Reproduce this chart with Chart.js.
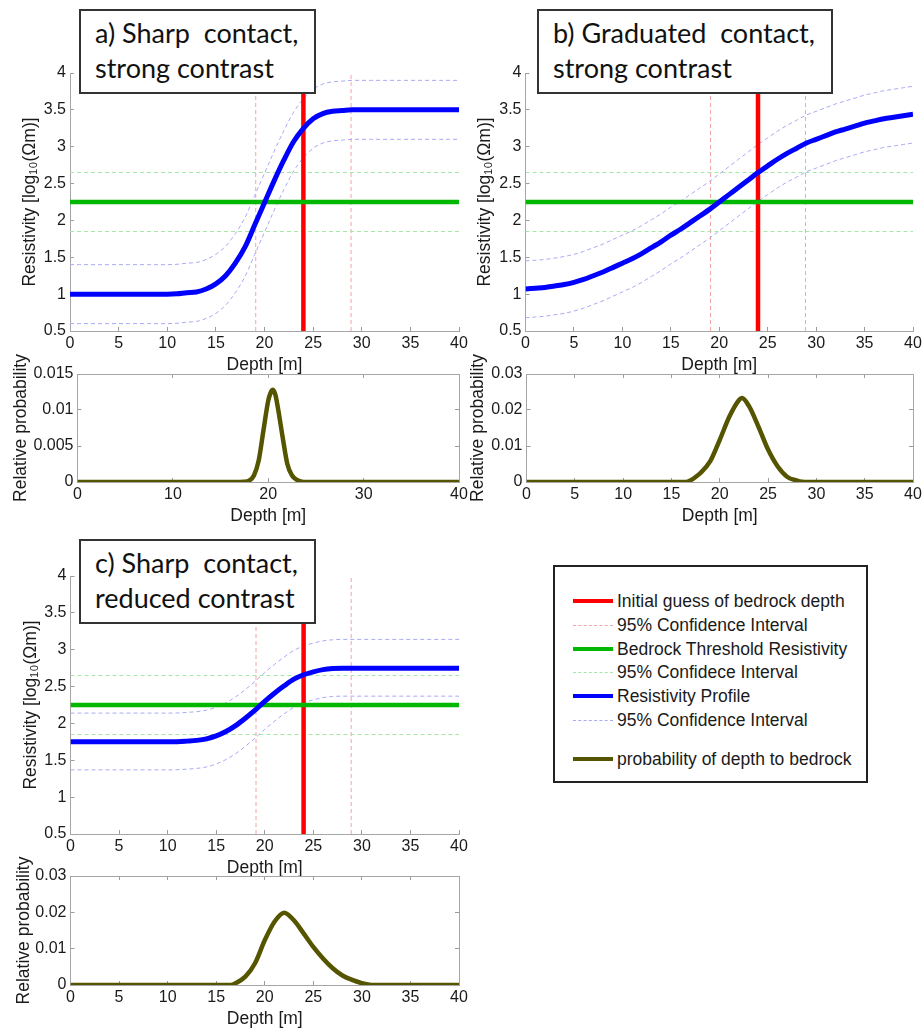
<!DOCTYPE html>
<html>
<head>
<meta charset="utf-8">
<script src="https://cdn.jsdelivr.net/npm/chart.js@4.4.1/dist/chart.umd.min.js"></script>
<style>
html,body{margin:0;padding:0;background:#fff;overflow:hidden;}
#wrap{position:relative;width:922px;height:1029px;overflow:hidden;background:#fff;}
#wrap canvas{position:absolute;}
.tbox{position:absolute;box-sizing:border-box;border:2px solid #333;background:#fff;font-family:Lato,"Open Sans",sans-serif;font-size:27px;line-height:35px;color:#111;padding:4px 0 0 14px;white-space:pre;z-index:5;}
.legend{position:absolute;box-sizing:border-box;border:2px solid #222;background:#fff;z-index:5;font-family:"Liberation Sans",Arial,sans-serif;font-size:17.5px;color:#1a1a1a;}
.legend .sample{position:absolute;left:18px;width:40px;height:0;}
.legend .lab{position:absolute;left:62px;line-height:20px;white-space:nowrap;}
</style>
</head>
<body>
<div id="wrap"></div>
<script>
// ---------------- DATA ----------------
const depth = [0,1,2,3,4,5,6,7,8,9,10,11,12,13,14,15,16,17,18,19,20,21,22,23,24,25,26,27,28,29,30,31,32,33,34,35,36,37,38,39,40];

const profileA = [1,1,1,1,1,1,1,1,1,1,1,1.005,1.02,1.03,1.07,1.14,1.25,1.42,1.64,1.94,2.24,2.54,2.82,3.07,3.25,3.38,3.45,3.48,3.49,3.5,3.5,3.5,3.5,3.5,3.5,3.5,3.5,3.5,3.5,3.5,3.5];
const upperA   = [1.4,1.4,1.4,1.4,1.4,1.4,1.4,1.4,1.4,1.4,1.4,1.405,1.42,1.43,1.47,1.54,1.65,1.82,2.04,2.34,2.64,2.94,3.22,3.47,3.65,3.78,3.85,3.88,3.89,3.9,3.9,3.9,3.9,3.9,3.9,3.9,3.9,3.9,3.9,3.9,3.9];
const lowerA   = [0.6,0.6,0.6,0.6,0.6,0.6,0.6,0.6,0.6,0.6,0.6,0.605,0.62,0.63,0.67,0.74,0.85,1.02,1.24,1.54,1.84,2.14,2.42,2.67,2.85,2.98,3.05,3.08,3.09,3.1,3.1,3.1,3.1,3.1,3.1,3.1,3.1,3.1,3.1,3.1,3.1];

const profileB = [1.07,1.08,1.09,1.11,1.13,1.16,1.20,1.25,1.30,1.36,1.42,1.48,1.55,1.63,1.71,1.80,1.88,1.97,2.06,2.15,2.25,2.35,2.45,2.55,2.65,2.74,2.83,2.91,2.98,3.05,3.10,3.15,3.20,3.24,3.28,3.32,3.35,3.38,3.40,3.42,3.44];
const upperB   = [1.45,1.46,1.47,1.49,1.51,1.54,1.58,1.63,1.68,1.74,1.80,1.86,1.93,2.01,2.09,2.18,2.26,2.35,2.44,2.53,2.63,2.73,2.83,2.93,3.03,3.12,3.21,3.29,3.36,3.43,3.48,3.53,3.58,3.62,3.66,3.70,3.73,3.76,3.78,3.80,3.82];
const lowerB   = [0.68,0.69,0.70,0.72,0.74,0.77,0.81,0.86,0.91,0.97,1.03,1.09,1.16,1.24,1.32,1.41,1.49,1.58,1.67,1.76,1.86,1.96,2.06,2.16,2.26,2.35,2.44,2.52,2.59,2.66,2.71,2.76,2.81,2.85,2.89,2.93,2.96,2.99,3.01,3.03,3.05];

const profileC = [1.75,1.75,1.75,1.75,1.75,1.75,1.75,1.75,1.75,1.75,1.75,1.752,1.76,1.77,1.79,1.83,1.89,1.97,2.07,2.18,2.30,2.41,2.51,2.60,2.66,2.70,2.73,2.745,2.75,2.75,2.75,2.75,2.75,2.75,2.75,2.75,2.75,2.75,2.75,2.75,2.75];
const upperC   = [2.14,2.14,2.14,2.14,2.14,2.14,2.14,2.14,2.14,2.14,2.14,2.142,2.15,2.16,2.18,2.22,2.28,2.36,2.46,2.57,2.69,2.80,2.90,2.99,3.05,3.09,3.12,3.135,3.14,3.14,3.14,3.14,3.14,3.14,3.14,3.14,3.14,3.14,3.14,3.14,3.14];
const lowerC   = [1.37,1.37,1.37,1.37,1.37,1.37,1.37,1.37,1.37,1.37,1.37,1.372,1.38,1.39,1.41,1.45,1.51,1.59,1.69,1.80,1.92,2.03,2.13,2.22,2.28,2.32,2.35,2.365,2.37,2.37,2.37,2.37,2.37,2.37,2.37,2.37,2.37,2.37,2.37,2.37,2.37];

const probDepthA = [0,5,10,15,17,17.5,18,18.5,19,19.5,20,20.25,20.5,20.75,21,21.5,22,22.5,23,23.5,24,25,30,35,40];
const probA      = [0,0,0,0,0,0.00002,0.0002,0.0009,0.003,0.0072,0.0113,0.0124,0.0128,0.0121,0.0104,0.0063,0.0025,0.0009,0.0003,0.00005,0,0,0,0,0];

const probDepthB = [0,5,10,15,16.5,17,17.5,18,19,20,21,22,22.3,23,24,25,26,27,28,28.5,30,35,40];
const probB      = [0,0,0,0,0,0.0005,0.0014,0.0025,0.0057,0.0117,0.0182,0.0228,0.0233,0.0212,0.0154,0.0090,0.0043,0.0014,0.0004,0.0001,0,0,0];

const probDepthC = [0,5,10,15,16.5,17,18,19,20,21,22,23,24,25,26,27,28,29,30,31,35,40];
const probC      = [0,0,0,0,0,0.0005,0.0023,0.006,0.0123,0.0174,0.0199,0.0178,0.0142,0.0105,0.0073,0.0046,0.0026,0.0014,0.0005,0,0,0];

const guessDepth = 24;
const guessDepthCI = [19.1, 28.9];
const thresholdRes = 2.25;
const thresholdResCI = [1.85, 2.65];

const resTicks = [0.5,1,1.5,2,2.5,3,3.5,4];
const resTickLabels = ['0.5','1','1.5','2','2.5','3','3.5','4'];
const depthTicks5 = [0,5,10,15,20,25,30,35,40];
const depthTickLabels5 = ['0','5','10','15','20','25','30','35','40'];
const depthTicks10 = [0,10,20,30,40];
const depthTickLabels10 = ['0','10','20','30','40'];
const probTicksA = [0,0.005,0.01,0.015];
const probTickLabelsA = ['0','0.005','0.01','0.015'];
const probTicksBC = [0,0.01,0.02,0.03];
const probTickLabelsBC = ['0','0.01','0.02','0.03'];

const panelTitles = [['a) Sharp  contact,','strong contrast'],['b) Graduated  contact,','strong contrast'],['c) Sharp  contact,','reduced contrast']];
const legendLabels = ['Initial guess of bedrock depth','95% Confidence Interval','Bedrock Threshold Resistivity','95% Confidece Interval','Resistivity Profile','95% Confidence Interval','probability of depth to bedrock'];

// ---------------- STYLE ----------------
const RED='#ff0000', RED_L='#f4a4a4', GREEN='#00b800', GREEN_L='#a6e6a6', BLUE='#0000ff', BLUE_L='#a9a9f6', OLIVE='#555500';
const FONT='"Liberation Sans", Arial, sans-serif';

const wrap = document.getElementById('wrap');
const pts = (xs, ys) => xs.map((x,i)=>({x:x, y:ys[i]}));

function scaleDef(vals, labels, pos, size, showLabels, title, titlePad, tickPad){
  return {
    type:'linear', position:pos, min:vals[0], max:vals[vals.length-1],
    afterBuildTicks: s => { s.ticks = vals.map(v=>({value:v})); },
    afterFit: s => {
      if (s.isHorizontal()) s.height = size; else s.width = size;
      s.paddingLeft = 0; s.paddingRight = 0; s.paddingTop = 0; s.paddingBottom = 0;
    },
    grid:{display:true, drawOnChartArea:false, drawTicks:true, tickLength:-4, color:'#9c9c9c', lineWidth:1},
    border:{display:true, color:'#a6a6a6', width:1},
    ticks:{display:showLabels, autoSkip:false, maxRotation:0, minRotation:0, padding:tickPad,
           font:{family:FONT, size:16}, color:'#1a1a1a', callback:(v,i)=>labels[i]},
    title: title ? {display:true, text:title, font:{family:FONT, size:17.5}, color:'#1a1a1a', padding:titlePad} : {display:false}
  };
}

function makePlot(p){
  const L = p.x0 - (p.titleX - 10.5);
  const W = p.x1 - p.x0 + L + p.R, H = p.y1 - p.y0 + p.T + p.B;
  const c = document.createElement('canvas');
  c.width = W; c.height = H;
  c.style.left = (p.x0 - L) + 'px'; c.style.top = (p.y0 - p.T) + 'px';
  c.style.width = W + 'px'; c.style.height = H + 'px';
  wrap.appendChild(c);
  const scales = {
    x: scaleDef(p.xt, p.xl, 'bottom', p.B, true, 'Depth [m]', {top:0, bottom:1.5}, 7),
    y: scaleDef(p.yt, p.yl, 'left', L, true, p.ytitle, {top:0, bottom:0}, 8)
  };
  if (p.box) {
    scales.x2 = scaleDef(p.xt, p.xl, 'top', 0, false, null, 0, 0);
    scales.y2 = scaleDef(p.yt, p.yl, 'right', 0, false, null, 0, 0);
  }
  new Chart(c, {
    type:'line',
    data:{datasets:p.datasets},
    options:{
      responsive:false, animation:false, devicePixelRatio:1,
      events:[],
      layout:{padding:{left:0, top:p.T, right:p.R, bottom:0}},
      plugins:{legend:{display:false}, tooltip:{enabled:false}},
      elements:{point:{radius:0}},
      scales:scales
    }
  });
}

function resDatasets(prof, up, lo){
  const yMin = resTicks[0], yMax = resTicks[resTicks.length-1];
  const xMin = depthTicks5[0], xMax = depthTicks5[depthTicks5.length-1];
  const dashed = (data, col, ord) => ({data, borderColor:col, borderWidth:1, borderDash:[4,3], order:ord, pointRadius:0});
  return [
    {label:'Resistivity Profile', data:pts(depth, prof), borderColor:BLUE, borderWidth:5, cubicInterpolationMode:'monotone', order:0, pointRadius:0},
    {label:'Bedrock Threshold Resistivity', data:[{x:xMin,y:thresholdRes},{x:xMax,y:thresholdRes}], borderColor:GREEN, borderWidth:4.5, order:1, pointRadius:0},
    {label:'Initial guess of bedrock depth', data:[{x:guessDepth,y:yMin},{x:guessDepth,y:yMax}], borderColor:RED, borderWidth:4.5, order:2, pointRadius:0},
    Object.assign(dashed(pts(depth, up), BLUE_L, 3), {cubicInterpolationMode:'monotone'}),
    Object.assign(dashed(pts(depth, lo), BLUE_L, 3), {cubicInterpolationMode:'monotone'}),
    dashed([{x:xMin,y:thresholdResCI[0]},{x:xMax,y:thresholdResCI[0]}], GREEN_L, 4),
    dashed([{x:xMin,y:thresholdResCI[1]},{x:xMax,y:thresholdResCI[1]}], GREEN_L, 4),
    dashed([{x:guessDepthCI[0],y:yMin},{x:guessDepthCI[0],y:yMax}], RED_L, 5),
    dashed([{x:guessDepthCI[1],y:yMin},{x:guessDepthCI[1],y:yMax}], RED_L, 5)
  ];
}
function probDatasets(xs, ys){
  return [{label:'probability of depth to bedrock', data:pts(xs, ys), borderColor:OLIVE, borderWidth:4.5, cubicInterpolationMode:'monotone', pointRadius:0}];
}

const RES_T = 'Resistivity [log\u2081\u2080(\u03A9m)]';
const PROB_T = 'Relative probability';
const plots = [
  {x0:70, x1:459, y0:73, y1:331, titleX:30.5, T:12, R:14, B:46, box:false, xt:depthTicks5, xl:depthTickLabels5, yt:resTicks, yl:resTickLabels, ytitle:RES_T, datasets:resDatasets(profileA, upperA, lowerA)},
  {x0:525, x1:913, y0:73, y1:331, titleX:485, T:12, R:9, B:46, box:false, xt:depthTicks5, xl:depthTickLabels5, yt:resTicks, yl:resTickLabels, ytitle:RES_T, datasets:resDatasets(profileB, upperB, lowerB)},
  {x0:70, x1:459, y0:576, y1:834, titleX:31, T:12, R:14, B:46, box:false, xt:depthTicks5, xl:depthTickLabels5, yt:resTicks, yl:resTickLabels, ytitle:RES_T, datasets:resDatasets(profileC, upperC, lowerC)},
  {x0:77, x1:459, y0:374, y1:482, titleX:21, T:28, R:14, B:46, box:true, xt:depthTicks10, xl:depthTickLabels10, yt:probTicksA, yl:probTickLabelsA, ytitle:PROB_T, datasets:probDatasets(probDepthA, probA)},
  {x0:526, x1:913, y0:374, y1:482, titleX:478, T:28, R:9, B:46, box:true, xt:depthTicks5, xl:depthTickLabels5, yt:probTicksBC, yl:probTickLabelsBC, ytitle:PROB_T, datasets:probDatasets(probDepthB, probB)},
  {x0:70, x1:459, y0:876, y1:985, titleX:24, T:28, R:14, B:46, box:true, xt:depthTicks5, xl:depthTickLabels5, yt:probTicksBC, yl:probTickLabelsBC, ytitle:PROB_T, datasets:probDatasets(probDepthC, probC)}
];
plots.forEach(makePlot);

// ---------------- TITLE BOXES ----------------
const boxes = [{l:79,t:9,w:237,h:85},{l:537,t:9,w:296,h:85},{l:79,t:539,w:237,h:85}];
boxes.forEach((b,i)=>{
  const d = document.createElement('div');
  d.className = 'tbox';
  d.style.left=b.l+'px'; d.style.top=b.t+'px'; d.style.width=b.w+'px'; d.style.height=b.h+'px';
  d.textContent = panelTitles[i].join('\n');
  wrap.appendChild(d);
});

// ---------------- LEGEND ----------------
const lg = document.createElement('div');
lg.className='legend';
lg.style.left='553px'; lg.style.top='565px'; lg.style.width='315px'; lg.style.height='218px';
const rowY = [36,60,84,107,131,155,194];
const legStyle = [[RED,4,'solid'],[RED_L,1,'dashed'],[GREEN,4,'solid'],[GREEN_L,1,'dashed'],[BLUE,4,'solid'],[BLUE_L,1,'dashed'],[OLIVE,4,'solid']];
legendLabels.forEach((t,i)=>{
  const s = document.createElement('div');
  s.className='sample';
  const [col,w,st] = legStyle[i];
  s.style.borderTop = w+'px '+st+' '+col;
  s.style.top = (rowY[i]-2-w/2)+'px';
  lg.appendChild(s);
  const l = document.createElement('div');
  l.className='lab';
  l.style.top=(rowY[i]-2-10)+'px';
  l.textContent=t;
  lg.appendChild(l);
});
wrap.appendChild(lg);
</script>
</body>
</html>
